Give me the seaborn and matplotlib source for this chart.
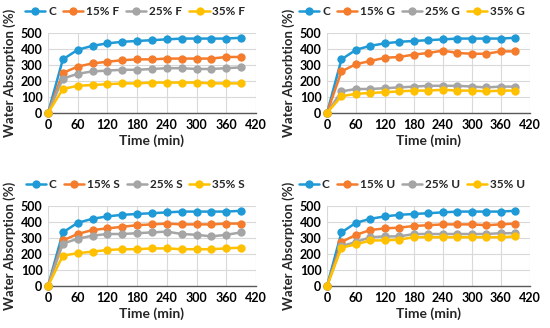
import matplotlib.pyplot as plt
import numpy as np
import pandas as pd
import seaborn as sns

# ---- data -----------------------------------------------------------------
time_min = [0, 30, 60, 90, 120, 150, 180, 210, 240, 270, 300, 330, 360, 390]

control = [0, 335, 395, 420, 435, 445, 450, 455, 460, 465, 465, 465, 465, 470]

f15 = [0, 250, 290, 310, 320, 330, 335, 335, 340, 340, 340, 340, 350, 350]
f25 = [0, 215, 245, 260, 265, 270, 270, 275, 280, 280, 275, 275, 280, 285]
f35 = [0, 150, 170, 175, 180, 185, 185, 190, 190, 190, 190, 185, 185, 185]

g15 = [0, 260, 305, 325, 345, 350, 365, 375, 390, 375, 370, 370, 385, 385]
g25 = [0, 135, 150, 150, 155, 160, 165, 170, 170, 170, 165, 160, 165, 165]
g35 = [0, 105, 120, 125, 130, 135, 140, 140, 145, 140, 140, 135, 140, 140]

s15 = [0, 285, 325, 350, 360, 370, 380, 385, 390, 385, 385, 385, 390, 390]
s25 = [0, 265, 295, 315, 325, 325, 330, 335, 340, 325, 320, 310, 320, 335]
s35 = [0, 190, 205, 215, 225, 230, 230, 235, 235, 230, 230, 230, 235, 240]

u15 = [0, 275, 320, 350, 360, 365, 375, 380, 385, 385, 385, 380, 385, 390]
u25 = [0, 250, 275, 305, 310, 310, 325, 325, 325, 325, 325, 325, 330, 330]
u35 = [0, 240, 260, 285, 285, 290, 305, 305, 305, 305, 305, 305, 305, 310]

panels = [
    ("F", [f15, f25, f35], "Water Absorption (%)"),
    ("G", [g15, g25, g35], "Water Absorbtion (%)"),
    ("S", [s15, s25, s35], "Water Absorption (%)"),
    ("U", [u15, u25, u35], "Water Absorption (%)"),
]

colors = ["#1F9AD6", "#F47C2C", "#A5A5A5", "#FFC000"]

# ---- figure ---------------------------------------------------------------
sns.set_style("white")
plt.rcParams['font.family'] = ['Lato', 'DejaVu Sans']
plt.rcParams['font.weight'] = 'bold'

fig = plt.figure(figsize=(5.5, 3.28), dpi=100)

positions = [
    [0.0873, 0.6555, 0.378, 0.244],
    [0.5945, 0.6555, 0.369, 0.244],
    [0.0873, 0.128, 0.378, 0.244],
    [0.5945, 0.128, 0.369, 0.244],
]

for (letter, series, ylab), pos in zip(panels, positions):
    ax = fig.add_axes(pos)
    names = ["C", "15% " + letter, "25% " + letter, "35% " + letter]
    df = pd.DataFrame({"Time": time_min * 4,
                       "WA": control + series[0] + series[1] + series[2],
                       "Series": np.repeat(names, len(time_min))})
    sns.lineplot(data=df, x="Time", y="WA", hue="Series", hue_order=names,
                 palette=dict(zip(names, colors)), marker="o", markersize=6,
                 markeredgewidth=0, linewidth=1.8, ax=ax, zorder=3)
    ax.set_xlim(0, 420)
    ax.set_ylim(0, 500)
    ax.set_xticks(range(0, 421, 60))
    ax.set_yticks(range(0, 501, 100))
    ax.grid(True, color="#D9D9D9", linewidth=0.8)
    ax.set_axisbelow(True)
    for side in ["top", "right", "left"]:
        ax.spines[side].set_visible(False)
    ax.spines["bottom"].set_color("#595959")
    ax.spines["bottom"].set_linewidth(1.0)
    ax.tick_params(axis="both", length=0, labelsize=9, pad=4, colors="black")
    for lbl in ax.get_xticklabels() + ax.get_yticklabels():
        lbl.set_fontweight("bold")
    ax.set_xlabel("Time (min)", fontsize=10, fontweight="bold", labelpad=3)
    ax.set_ylabel(ylab, fontsize=9.5, fontweight="bold", labelpad=3)
    for ln in ax.get_lines():
        ln.set_clip_on(False)
    leg = ax.legend(loc="lower center", bbox_to_anchor=(0.42, 1.2), ncol=4,
                    frameon=False, fontsize=8.5, handlelength=1.7,
                    columnspacing=0.6, handletextpad=0.25, borderaxespad=0,
                    borderpad=0)
    for t in leg.get_texts():
        t.set_fontweight("bold")

fig.savefig("out.png", dpi=100)
